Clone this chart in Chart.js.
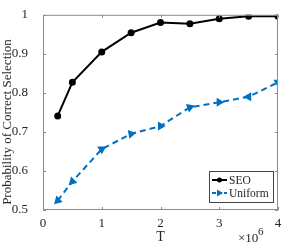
<!DOCTYPE html>
<html lang="en">
<head>
    <meta charset="UTF-8">
    <title>Probability of Correct Selection</title>
    <script src="https://cdn.jsdelivr.net/npm/chart.js"></script>
    <style>
        body {
            margin: 0;
            background: white;
        }
        .box {
            width: 284px;
            height: 246px;
        }
    </style>
</head>
<body>
    <div class="box"><canvas id="pcsChart" width="284" height="246"></canvas></div>

    <script>
        const budgets = [0.25, 0.5, 1, 1.5, 2, 2.5, 3, 3.5, 4];
        const seoValues = [0.741, 0.827, 0.905, 0.954, 0.980, 0.977, 0.990, 0.996, 0.996];
        const uniformValues = [0.524, 0.573, 0.656, 0.695, 0.715, 0.763, 0.776, 0.790, 0.827];
        const xTicks = [0, 1, 2, 3, 4];
        const yTicks = [0.5, 0.6, 0.7, 0.8, 0.9, 1];

        const arrowAngles = [225, 225, 60, 80, 90, 70, 90, 150, 60];
        const serif = "'Liberation Serif', 'DejaVu Serif', serif";
        const axisGray = '#8c8c8c';
        const textGray = '#262626';
        const blue = '#0072BD';

        // box round the plot, inward ticks, y title, legend and the x10^6 note
        const frame = {
            id: 'frame',
            afterDraw(chart) {
                const c = chart.ctx;
                const a = chart.chartArea;
                const xs = chart.scales.x, ys = chart.scales.y;
                c.save();
                c.strokeStyle = axisGray;
                c.lineWidth = 1;
                c.strokeRect(a.left + 0.5, a.top + 0.5, a.right - a.left - 1, a.bottom - a.top - 1);
                c.beginPath();
                xTicks.forEach(v => {
                    let px = Math.round(xs.getPixelForValue(v)) + 0.5;
                    c.moveTo(px, a.bottom); c.lineTo(px, a.bottom - 3);
                    c.moveTo(px, a.top); c.lineTo(px, a.top + 3);
                });
                yTicks.forEach(v => {
                    let py = Math.round(ys.getPixelForValue(v)) + 0.5;
                    c.moveTo(a.left, py); c.lineTo(a.left + 3, py);
                    c.moveTo(a.right, py); c.lineTo(a.right - 3, py);
                });
                c.stroke();

                // y axis title
                c.fillStyle = textGray;
                c.save();
                c.translate(8, 122);
                c.rotate(-Math.PI / 2);
                c.font = '13px ' + serif;
                c.textAlign = 'center';
                c.textBaseline = 'middle';
                c.fillText('Probability of Correct Selection', 0, 0);
                c.restore();

                // exponent note
                c.font = '13px ' + serif;
                c.textBaseline = 'alphabetic';
                c.textAlign = 'left';
                c.fillText('\u00d710', 238, 242);
                c.font = '11px ' + serif;
                c.fillText('6', 258, 235);

                // legend
                const lx = 209, ly = 171, lw = 64, lh = 31;
                c.fillStyle = 'white';
                c.fillRect(lx, ly, lw, lh);
                c.strokeStyle = '#444';
                c.strokeRect(lx + 0.5, ly + 0.5, lw, lh);
                const rows = [
                    { label: 'SEO', color: 'black', dash: [], y: ly + 9 },
                    { label: 'Uniform', color: blue, dash: [4, 2], y: ly + 22 }
                ];
                rows.forEach(r => {
                    c.strokeStyle = r.color;
                    c.fillStyle = r.color;
                    c.lineWidth = 2;
                    c.setLineDash(r.dash);
                    c.beginPath();
                    c.moveTo(lx + 3, r.y); c.lineTo(lx + 18, r.y);
                    c.stroke();
                    c.setLineDash([]);
                    c.beginPath();
                    if (r.label === 'SEO') {
                        c.arc(lx + 10.5, r.y, 2.5, 0, Math.PI * 2);
                    } else {
                        c.moveTo(lx + 14, r.y);
                        c.lineTo(lx + 8, r.y - 3.5);
                        c.lineTo(lx + 8, r.y + 3.5);
                        c.closePath();
                    }
                    c.fill();
                    c.fillStyle = textGray;
                    c.font = '11.5px ' + serif;
                    c.textBaseline = 'middle';
                    c.fillText(r.label, lx + 20, r.y + 0.5);
                });
                c.restore();
            }
        };

        const ctx = document.getElementById('pcsChart').getContext('2d');
        new Chart(ctx, {
            type: 'line',
            data: {
                labels: budgets,
                datasets: [
                    {
                        label: 'SEO',
                        data: budgets.map((b, i) => ({ x: b, y: seoValues[i] })),
                        borderColor: 'black',
                        backgroundColor: 'black',
                        borderWidth: 2,
                        pointRadius: 2.5,
                        pointStyle: 'circle',
                        tension: 0
                    },
                    {
                        label: 'Uniform',
                        data: budgets.map((b, i) => ({ x: b, y: uniformValues[i] })),
                        borderColor: blue,
                        backgroundColor: blue,
                        borderWidth: 2,
                        borderDash: [6, 4],
                        pointStyle: 'triangle',
                        pointRadius: 3.2,
                        pointRotation: arrowAngles,
                        tension: 0
                    }
                ]
            },
            options: {
                responsive: false,
                animation: false,
                layout: { padding: { top: 5, right: 4, left: 0, bottom: 0 } },
                plugins: {
                    legend: { display: false },
                    tooltip: { enabled: false }
                },
                scales: {
                    x: {
                        type: 'linear',
                        min: 0,
                        max: 4,
                        afterBuildTicks: s => { s.ticks = xTicks.map(v => ({ value: v })); },
                        afterFit: s => { s.height = 36; },
                        grid: { display: false },
                        border: { display: false },
                        ticks: {
                            color: textGray,
                            padding: -2,
                            maxRotation: 0,
                            font: { family: serif, size: 13 }
                        },
                        title: {
                            display: true,
                            text: 'T',
                            color: textGray,
                            padding: { top: 0, bottom: 0 },
                            font: { family: serif, size: 14 }
                        }
                    },
                    y: {
                        min: 0.5,
                        max: 1,
                        afterBuildTicks: s => { s.ticks = yTicks.map(v => ({ value: v })); },
                        afterFit: s => { s.width = 43; },
                        grid: { display: false },
                        border: { display: false },
                        ticks: {
                            color: textGray,
                            padding: 7,
                            font: { family: serif, size: 13 },
                            callback: v => String(Math.round(v * 10) / 10)
                        }
                    }
                }
            },
            plugins: [frame]
        });
    </script>
</body>
</html>
